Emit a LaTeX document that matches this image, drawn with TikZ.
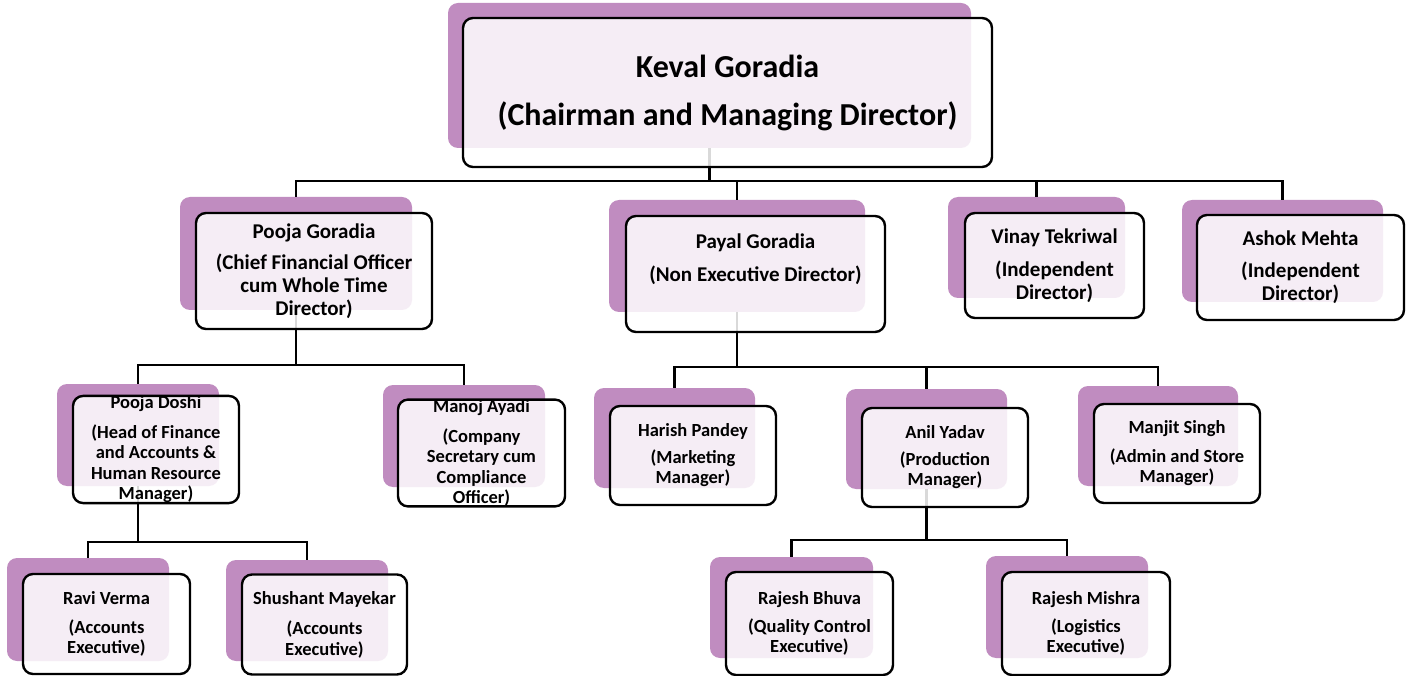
\documentclass[tikz,border=0pt]{standalone}
\usepackage{fontspec}
\setmainfont{Carlito}
\usepackage{xcolor}
\usepackage{tikz}

\definecolor{orchid}{RGB}{192,140,192}

\begin{document}
\begin{tikzpicture}[x=1pt, y=-1pt,
    bg/.style={rectangle, fill=orchid, rounded corners=10pt, inner sep=0pt},
    card/.style={rectangle, draw, line width=2.4pt, rounded corners=10pt, fill=white, fill opacity=0.85, text opacity=1, align=center, inner sep=0pt},
    top/.style={font=\bfseries\fontsize{32}{39}\selectfont},
    mid/.style={font=\bfseries\fontsize{21}{23}\selectfont},
    low/.style={font=\bfseries\fontsize{18.5}{20.5}\selectfont},
    link/.style={draw, line width=2.2pt}]
    \path[use as bounding box, fill=white] (0,0) rectangle (1408,676);

    % back shapes
    \node[bg, minimum width=523pt, minimum height=145pt] (keval-bg) at (709.5,75.5) {};
    \node[bg, minimum width=232pt, minimum height=113pt] (pooja-bg) at (296,253.5) {};
    \node[bg, minimum width=256pt, minimum height=112pt] (payal-bg) at (737,256) {};
    \node[bg, minimum width=177pt, minimum height=101pt] (vinay-bg) at (1036.5,247.5) {};
    \node[bg, minimum width=201pt, minimum height=102pt] (ashok-bg) at (1282.5,251) {};
    \node[bg, minimum width=162pt, minimum height=102pt] (doshi-bg) at (138,435) {};
    \node[bg, minimum width=162pt, minimum height=102pt] (manoj-bg) at (464,436) {};
    \node[bg, minimum width=161pt, minimum height=100pt] (harish-bg) at (674.5,438) {};
    \node[bg, minimum width=161pt, minimum height=100pt] (anil-bg) at (926.5,439) {};
    \node[bg, minimum width=160pt, minimum height=100pt] (manjit-bg) at (1158,436) {};
    \node[bg, minimum width=162pt, minimum height=103pt] (ravi-bg) at (88,609.5) {};
    \node[bg, minimum width=162pt, minimum height=101pt] (shushant-bg) at (307,610.5) {};
    \node[bg, minimum width=163pt, minimum height=101pt] (bhuva-bg) at (791.5,607.5) {};
    \node[bg, minimum width=162pt, minimum height=102pt] (mishra-bg) at (1067,607) {};

    % reporting lines
    \draw[link] (keval-bg.south) -- ++(0,33) -| (pooja-bg.north);
    \draw[link] (keval-bg.south) -- ++(0,33) -| (payal-bg.north);
    \draw[link] (keval-bg.south) -- ++(0,33) -| (vinay-bg.north);
    \draw[link] (keval-bg.south) -- ++(0,33) -| (ashok-bg.north);
    \draw[link] (pooja-bg.south) -- ++(0,55) -| (doshi-bg.north);
    \draw[link] (pooja-bg.south) -- ++(0,55) -| (manoj-bg.north);
    \draw[link] (payal-bg.south) -- ++(0,55) -| (harish-bg.north);
    \draw[link] (payal-bg.south) -- ++(0,55) -| (anil-bg.north);
    \draw[link] (payal-bg.south) -- ++(0,55) -| (manjit-bg.north);
    \draw[link] (doshi-bg.south) -- ++(0,56) -| (ravi-bg.north);
    \draw[link] (doshi-bg.south) -- ++(0,56) -| (shushant-bg.north);
    \draw[link] (anil-bg.south) -- ++(0,51) -| (bhuva-bg.north);
    \draw[link] (anil-bg.south) -- ++(0,51) -| (mishra-bg.north);

    % front cards
    \node[card, top, minimum width=529pt, minimum height=149pt] (keval) at (727.5,92.5) {Keval Goradia\\[9pt] (Chairman and Managing Director)};
    \node[card, mid, minimum width=236pt, minimum height=116pt] (pooja) at (314,271) {Pooja Goradia\\[8pt] (Chief Financial Officer\\ cum Whole Time\\ Director)};
    \node[card, mid, minimum width=259pt, minimum height=116pt] (payal) at (755.5,274) {Payal Goradia\\[10pt] (Non Executive Director)\\[10pt] \mbox{}};
    \node[card, mid, minimum width=179pt, minimum height=105pt] (vinay) at (1054.5,265.5) {Vinay Tekriwal\\[10pt] (Independent\\ Director)};
    \node[card, mid, minimum width=207pt, minimum height=105pt] (ashok) at (1300.5,267.5) {Ashok Mehta\\[9pt] (Independent\\ Director)};
    \node[card, low, minimum width=166pt, minimum height=101pt] (doshi) at (156,449.5) {Pooja Doshi\\[9pt] (Head of Finance\\ and Accounts \&\\ Human Resource\\ Manager)};
    \node[card, low, minimum width=167pt, minimum height=104pt] (manoj) at (481.5,453) {Manoj Ayadi\\[9pt] (Company\\ Secretary cum\\ Compliance\\ Officer)};
    \node[card, low, minimum width=166pt, minimum height=99pt] (harish) at (693,455.5) {Harish Pandey\\[6pt] (Marketing\\ Manager)};
    \node[card, low, minimum width=166pt, minimum height=99pt] (anil) at (945,457.5) {Anil Yadav\\[6pt] (Production\\ Manager)};
    \node[card, low, minimum width=166pt, minimum height=99pt] (manjit) at (1177,453.5) {Manjit Singh\\[8pt] (Admin and Store\\ Manager)};
    \node[card, low, minimum width=167pt, minimum height=100pt] (ravi) at (106.5,624) {Ravi Verma\\[8pt] (Accounts\\ Executive)};
    \node[card, low, minimum width=165pt, minimum height=100pt] (shushant) at (324.5,624.5) {Shushant Mayekar\\[10pt] (Accounts\\ Executive)};
    \node[card, low, minimum width=167pt, minimum height=103pt] (bhuva) at (809.5,623.5) {Rajesh Bhuva\\[7pt] (Quality Control\\ Executive)};
    \node[card, low, minimum width=168pt, minimum height=103pt] (mishra) at (1086,623.5) {Rajesh Mishra\\[7pt] (Logistics\\ Executive)};
\end{tikzpicture}
\end{document}
